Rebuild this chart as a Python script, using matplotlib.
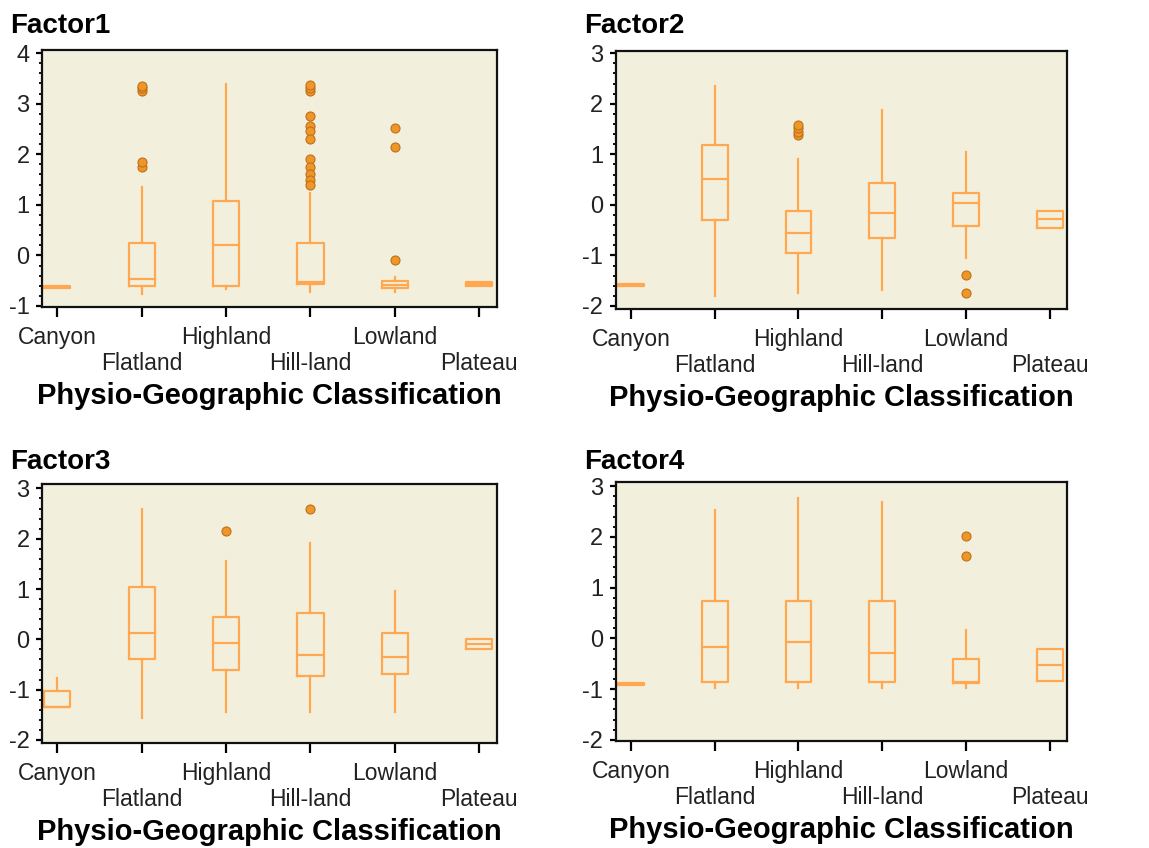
import matplotlib
matplotlib.use('Agg')
import matplotlib.pyplot as plt
from matplotlib.ticker import MultipleLocator

plt.rcParams['font.family'] = ['Liberation Sans', 'DejaVu Sans']
plt.rcParams['axes.unicode_minus'] = False

categories = ['Canyon', 'Flatland', 'Highland', 'Hill-land', 'Lowland', 'Plateau']
xlabel = 'Physio-Geographic Classification'

# Factor1 box statistics, one value per category
f1_lo = [-0.64, -0.77, -0.66, -0.72, -0.72, -0.61]
f1_q1 = [-0.64, -0.60, -0.60, -0.56, -0.64, -0.61]
f1_med = [-0.62, -0.47, 0.20, -0.53, -0.58, -0.57]
f1_q3 = [-0.60, 0.24, 1.07, 0.24, -0.51, -0.53]
f1_hi = [-0.60, 1.36, 3.39, 1.24, -0.43, -0.53]
f1_out = [[], [3.25, 3.30, 3.35, 1.75, 1.85], [],
          [3.25, 3.30, 3.36, 2.75, 2.55, 2.45, 2.30, 1.90, 1.75, 1.60, 1.50, 1.40],
          [2.52, 2.15, -0.10], []]

# Factor2
f2_lo = [-1.60, -1.81, -1.74, -1.69, -1.05, -0.45]
f2_q1 = [-1.60, -0.29, -0.96, -0.65, -0.41, -0.45]
f2_med = [-1.58, 0.51, -0.56, -0.17, 0.03, -0.28]
f2_q3 = [-1.56, 1.18, -0.12, 0.43, 0.24, -0.13]
f2_hi = [-1.56, 2.35, 0.91, 1.88, 1.04, -0.13]
f2_out = [[], [], [1.38, 1.45, 1.52, 1.58], [], [-1.39, -1.74], []]

# Factor3
f3_lo = [-1.35, -1.57, -1.45, -1.45, -1.45, -0.19]
f3_q1 = [-1.35, -0.40, -0.60, -0.72, -0.68, -0.19]
f3_med = [-1.35, 0.13, -0.07, -0.32, -0.36, -0.09]
f3_q3 = [-1.03, 1.05, 0.44, 0.52, 0.13, 0.00]
f3_hi = [-0.77, 2.60, 1.56, 1.92, 0.97, 0.00]
f3_out = [[], [], [2.15], [2.60], [], []]

# Factor4
f4_lo = [-0.92, -0.97, -0.97, -0.97, -0.97, -0.84]
f4_q1 = [-0.92, -0.85, -0.85, -0.85, -0.88, -0.84]
f4_med = [-0.90, -0.17, -0.08, -0.29, -0.85, -0.53]
f4_q3 = [-0.88, 0.74, 0.74, 0.74, -0.41, -0.21]
f4_hi = [-0.88, 2.53, 2.76, 2.68, 0.17, -0.21]
f4_out = [[], [], [], [], [2.02, 1.63], []]

factors = [
    ('Factor1', f1_lo, f1_q1, f1_med, f1_q3, f1_hi, f1_out, (-1.02, 4.06)),
    ('Factor2', f2_lo, f2_q1, f2_med, f2_q3, f2_hi, f2_out, (-2.06, 3.04)),
    ('Factor3', f3_lo, f3_q1, f3_med, f3_q3, f3_hi, f3_out, (-2.06, 3.08)),
    ('Factor4', f4_lo, f4_q1, f4_med, f4_q3, f4_hi, f4_out, (-2.02, 3.08)),
]

# axes rectangles in figure fractions, plus title baseline
positions = [
    ([0.0366, 0.638, 0.396, 0.303], 0.961),
    ([0.536, 0.6356, 0.393, 0.304], 0.961),
    ([0.0366, 0.1238, 0.396, 0.305], 0.447),
    ([0.536, 0.1262, 0.393, 0.3054], 0.447),
]

box_color = '#FFA851'
bg_color = '#F2F0DC'

fig = plt.figure(figsize=(11.49, 8.48), dpi=100)

for (name, lo, q1, med, q3, hi, out, ylim), (rect, ty) in zip(factors, positions):
    ax = fig.add_axes(rect)
    ax.set_facecolor(bg_color)
    stats = []
    for i in range(len(categories)):
        stats.append({'whislo': lo[i], 'q1': q1[i], 'med': med[i],
                      'q3': q3[i], 'whishi': hi[i], 'fliers': out[i]})
    ax.bxp(stats, positions=range(len(categories)), widths=0.31,
           showcaps=False, patch_artist=False,
           boxprops=dict(color=box_color, linewidth=1.6),
           whiskerprops=dict(color=box_color, linewidth=1.6),
           medianprops=dict(color=box_color, linewidth=1.6),
           flierprops=dict(marker='o', markersize=6.5, markerfacecolor='#EE9628',
                           markeredgecolor='#C0701A', markeredgewidth=0.8))
    ax.set_xlim(-0.18, 5.21)
    ax.set_ylim(*ylim)
    ax.yaxis.set_major_locator(MultipleLocator(1))
    ax.yaxis.set_minor_locator(MultipleLocator(0.2))
    ax.set_xticks(range(len(categories)))
    labels = [c if i % 2 == 0 else '\n' + c for i, c in enumerate(categories)]
    ax.set_xticklabels(labels, fontsize=16.5, color='#222222', linespacing=1.15)
    ax.tick_params(axis='x', length=7, width=1.6, pad=7, direction='out')
    ax.tick_params(axis='y', which='major', length=4, width=1.6, pad=5,
                   labelsize=17, labelcolor='#222222')
    ax.tick_params(axis='y', which='minor', length=2.5, width=1.3)
    for s in ax.spines.values():
        s.set_linewidth(1.6)
        s.set_color('#111111')
    ax.set_xlabel(xlabel, fontsize=21, fontweight='bold', labelpad=5)
    fig.text(rect[0] - 0.028, ty, name, fontsize=20, fontweight='bold',
             va='baseline', ha='left')

fig.savefig('out.png', dpi=100)
